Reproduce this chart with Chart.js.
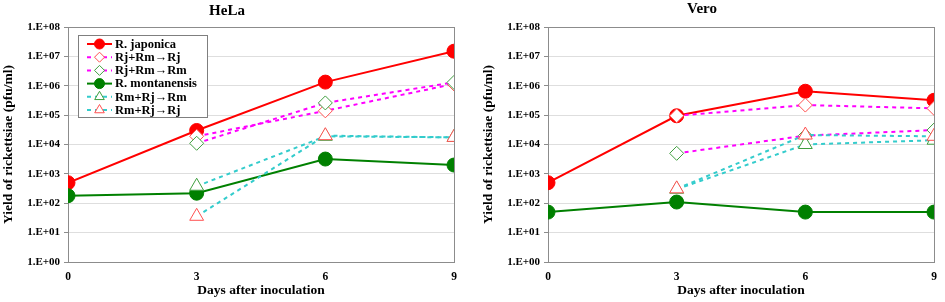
<!DOCTYPE html>
<html>
<head>
<meta charset="utf-8">
<script src="https://cdn.jsdelivr.net/npm/chart.js@4.4.0/dist/chart.umd.min.js"></script>
<style>
  html, body { margin: 0; padding: 0; background: #fff; }
  #wrap { position: relative; width: 945px; height: 302px; }
  canvas { position: absolute; top: 0; }
</style>
</head>
<body>
<div id="wrap">
  <canvas id="hela" width="470" height="302" style="left:0px"></canvas>
  <canvas id="vero" width="475" height="302" style="left:470px"></canvas>
</div>
<script>
// data
const days = [0, 3, 6, 9];
const yTickValues = [1, 1e1, 1e2, 1e3, 1e4, 1e5, 1e6, 1e7, 1e8];
const seriesNames = ['R. japonica', 'Rj+Rm\u2192Rj', 'Rj+Rm\u2192Rm', 'R. montanensis', 'Rm+Rj\u2192Rm', 'Rm+Rj\u2192Rj'];

const helaJaponica    = [500, 30000, 1.33e6, 1.5e7];
const helaRjRmRj      = [null, 1.9e4, 1.4e5, 1.15e6];
const helaRjRmRm      = [null, 1.1e4, 2.6e5, 1.3e6];
const helaMontanensis = [180, 220, 3200, 2000];
const helaRmRjRm      = [null, 380, 1.9e4, 1.75e4];
const helaRmRjRj      = [null, 36, 2.0e4, 1.75e4];

const veroJaponica    = [500, 9.5e4, 6.5e5, 3.2e5];
const veroRjRmRj      = [null, 9.5e4, 2.2e5, 1.7e5];
const veroRjRmRm      = [null, 5000, 2.0e4, 3.1e4];
const veroMontanensis = [50, 110, 50, 50];
const veroRmRjRm      = [null, 300, 1.0e4, 1.4e4];
const veroRmRjRj      = [null, 310, 2.1e4, 1.9e4];

const FONT = "'Liberation Serif', 'Times New Roman', serif";

// look of each series (same order as seriesNames)
const styles = [
  { line: '#ff0000', dash: [],     marker: 'circle',   fill: '#ff0000', edge: '#ff0000', r: 7 },
  { line: '#ff00ff', dash: [4, 4], marker: 'rectRot',  fill: '#ffffff', edge: '#ff5050', r: 7 },
  { line: '#ff00ff', dash: [4, 4], marker: 'rectRot',  fill: '#ffffff', edge: '#3f9f3f', r: 7 },
  { line: '#008000', dash: [],     marker: 'circle',   fill: '#008000', edge: '#008000', r: 7 },
  { line: '#33cccc', dash: [4, 4], marker: 'triangle', fill: '#ffffff', edge: '#3f9f3f', r: 8 },
  { line: '#33cccc', dash: [4, 4], marker: 'triangle', fill: '#ffffff', edge: '#ff5050', r: 8 },
];

function makeDatasets(series) {
  return series.map((vals, i) => {
    const s = styles[i];
    return {
      label: seriesNames[i],
      data: days.map((d, k) => ({ x: d, y: vals[k] })),
      borderColor: s.line,
      borderWidth: 2,
      borderDash: s.dash,
      pointStyle: s.marker,
      pointRadius: s.r,
      pointBackgroundColor: s.fill,
      pointBorderColor: s.edge,
      pointBorderWidth: 1,
      tension: 0,
      order: 10 - i   // later series drawn on top, like the original
    };
  });
}

// frame around the plot area
const framePlugin = {
  id: 'frame',
  beforeDatasetsDraw(chart) {
    const a = chart.chartArea, ctx = chart.ctx;
    ctx.save();
    ctx.strokeStyle = '#8c8c8c';
    ctx.lineWidth = 1;
    ctx.strokeRect(Math.round(a.left) + 0.5, Math.round(a.top) + 0.5,
                   Math.round(a.right - a.left), Math.round(a.bottom - a.top));
    ctx.restore();
  }
};

function drawMarker(ctx, s, x, y, r) {
  ctx.save();
  ctx.fillStyle = s.fill;
  ctx.strokeStyle = s.edge;
  ctx.lineWidth = 1;
  ctx.setLineDash([]);
  ctx.beginPath();
  if (s.marker === 'circle') {
    ctx.arc(x, y, r, 0, Math.PI * 2);
  } else if (s.marker === 'rectRot') {
    ctx.moveTo(x, y - r); ctx.lineTo(x + r, y); ctx.lineTo(x, y + r); ctx.lineTo(x - r, y);
    ctx.closePath();
  } else {
    const h = r * 1.5;
    ctx.moveTo(x, y - h * 2 / 3); ctx.lineTo(x + r * 0.87, y + h / 3); ctx.lineTo(x - r * 0.87, y + h / 3);
    ctx.closePath();
  }
  ctx.fill();
  ctx.stroke();
  ctx.restore();
}

// legend box drawn inside the HeLa plot
const legendPlugin = {
  id: 'boxLegend',
  afterDraw(chart) {
    const ctx = chart.ctx;
    const x0 = 78, y0 = 35, w = 129, h = 82;
    ctx.save();
    ctx.fillStyle = '#ffffff';
    ctx.fillRect(x0, y0, w, h);
    ctx.strokeStyle = '#7f7f7f';
    ctx.lineWidth = 1;
    ctx.strokeRect(x0 + 0.5, y0 + 0.5, w, h);
    ctx.font = 'bold 12.5px ' + FONT;
    ctx.textBaseline = 'middle';
    ctx.fillStyle = '#000';
    seriesNames.forEach((name, i) => {
      const s = styles[i];
      const y = y0 + 9 + i * 13.2;
      ctx.save();
      ctx.strokeStyle = s.line;
      ctx.lineWidth = 2;
      ctx.setLineDash(s.dash);
      ctx.beginPath();
      ctx.moveTo(87, y); ctx.lineTo(112, y);
      ctx.stroke();
      ctx.restore();
      drawMarker(ctx, s, 99.5, y, s.marker === 'triangle' ? 5.5 : 5);
      ctx.fillText(name, 115, y + 0.5);
    });
    ctx.restore();
  }
};

function makeChart(id, title, series, opts) {
  return new Chart(document.getElementById(id).getContext('2d'), {
    type: 'line',
    data: { datasets: makeDatasets(series) },
    options: {
      responsive: false,
      animation: false,
      devicePixelRatio: 1,
      layout: { padding: { left: 0, right: opts.right, top: 0, bottom: 0 } },
      plugins: {
        legend: { display: false },
        tooltip: { enabled: false },
        title: {
          display: true,
          text: title,
          color: '#000',
          font: { family: FONT, size: 15, weight: 'bold', lineHeight: 1.2 },
          padding: opts.titlePad
        }
      },
      scales: {
        x: {
          type: 'linear',
          min: 0, max: 9,
          afterBuildTicks: (s) => { s.ticks = days.map(v => ({ value: v })); },
          afterFit: (s) => { s.height = 40; },
          grid: { display: false, drawTicks: false, tickLength: 0 },
          border: { display: false },
          ticks: { color: '#000', padding: 8, font: { family: FONT, size: 11.5, weight: 'bold' } },
          title: {
            display: true,
            text: 'Days after inoculation',
            color: '#000',
            font: { family: FONT, size: 13.5, weight: 'bold', lineHeight: 1.2 },
            padding: { top: 0, bottom: 3 }
          }
        },
        y: {
          type: 'logarithmic',
          min: 1, max: 1e8,
          afterBuildTicks: (s) => { s.ticks = yTickValues.map(v => ({ value: v })); },
          afterFit: (s) => { s.width = opts.axisWidth; },
          grid: { color: '#dedede', lineWidth: 1, tickLength: 4, tickColor: '#8c8c8c' },
          border: { display: false },
          ticks: {
            color: '#000',
            padding: 4,
            font: { family: FONT, size: 11, weight: 'bold' },
            callback: (v) => '1.E+' + String(Math.round(Math.log10(v))).padStart(2, '0')
          },
          title: {
            display: true,
            text: 'Yield of rickettsiae (pfu/ml)',
            color: '#000',
            font: { family: FONT, size: 13.5, weight: 'bold', lineHeight: 1.2 },
            padding: { top: opts.yTitlePad, bottom: 0 }
          }
        }
      }
    },
    plugins: opts.legend ? [framePlugin, legendPlugin] : [framePlugin]
  });
}

makeChart('hela', 'HeLa',
  [helaJaponica, helaRjRmRj, helaRjRmRm, helaMontanensis, helaRmRjRm, helaRmRjRj],
  { right: 16, axisWidth: 68, titlePad: { top: 2, bottom: 7 }, yTitlePad: 0, legend: true });

makeChart('vero', 'Vero',
  [veroJaponica, veroRjRmRj, veroRjRmRm, veroMontanensis, veroRmRjRm, veroRmRjRj],
  { right: 11, axisWidth: 78, titlePad: { top: 0, bottom: 9 }, yTitlePad: 10, legend: false });
</script>
</body>
</html>
